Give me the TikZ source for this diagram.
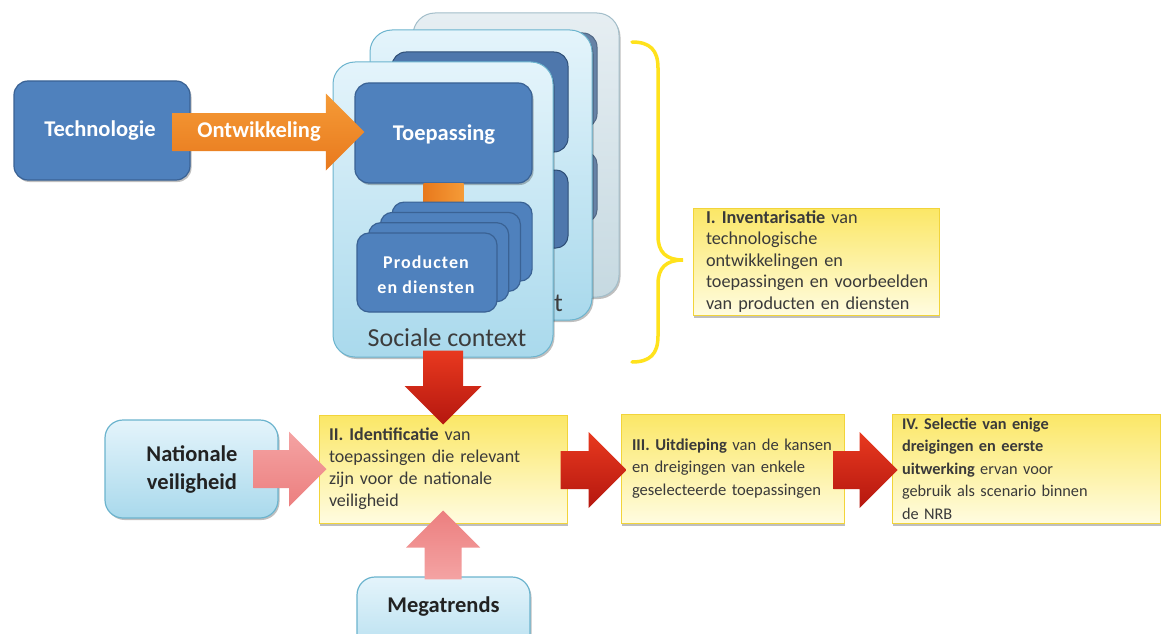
\documentclass[tikz,border=0pt]{standalone}
\usepackage{fontspec}
\setmainfont{Carlito}
\usetikzlibrary{calc,shadows}
\definecolor{techblue}{HTML}{4F81BD}
\definecolor{techborder}{HTML}{3A6294}
\definecolor{midblue}{HTML}{4E77AC}
\definecolor{backblue}{HTML}{6682A6}
\definecolor{cardtop}{HTML}{E4F4FB}
\definecolor{cardbot}{HTML}{A9D9EC}
\definecolor{cardborder}{HTML}{6CB4CE}
\definecolor{backtop}{HTML}{E6EEF2}
\definecolor{backbot}{HTML}{C6D9E1}
\definecolor{backborder}{HTML}{A3BECA}
\definecolor{ytop}{HTML}{FBE766}
\definecolor{ybot}{HTML}{FFFCE0}
\definecolor{yborder}{HTML}{F2D43A}
\definecolor{ytext}{HTML}{3A3A3A}
\definecolor{bracecol}{HTML}{FFE21C}
\definecolor{redtop}{HTML}{E8391F}
\definecolor{redbot}{HTML}{B5170F}
\definecolor{pinktop}{HTML}{F4A3A3}
\definecolor{pinkbot}{HTML}{EC7F7F}
\definecolor{orangetop}{HTML}{F59B37}
\definecolor{orangebot}{HTML}{E8791D}
\definecolor{darktext}{HTML}{222222}
\definecolor{greytext}{HTML}{3C3C3C}

% fat block arrows: #1 options, #2 start, #3 tip, #4 shaft half width, #5 head half width (= head length)
\newcommand\fatR[5]{\path[#1] let \p1=(#2), \p2=(#3) in
  (\x1,\y2+#4) -- (\x2-#5,\y2+#4) -- (\x2-#5,\y2+#5) -- (\x2,\y2) -- (\x2-#5,\y2-#5) -- (\x2-#5,\y2-#4) -- (\x1,\y2-#4) -- cycle;}
\newcommand\fatD[5]{\path[#1] let \p1=(#2), \p2=(#3) in
  (\x2-#4,\y1) -- (\x2-#4,\y2+#5) -- (\x2-#5,\y2+#5) -- (\x2,\y2) -- (\x2+#5,\y2+#5) -- (\x2+#4,\y2+#5) -- (\x2+#4,\y1) -- cycle;}
\newcommand\fatU[5]{\path[#1] let \p1=(#2), \p2=(#3) in
  (\x2-#4,\y1) -- (\x2-#4,\y2-#5) -- (\x2-#5,\y2-#5) -- (\x2,\y2) -- (\x2+#5,\y2-#5) -- (\x2+#4,\y2-#5) -- (\x2+#4,\y1) -- cycle;}

\begin{document}
\begin{tikzpicture}[x=1pt,y=-1pt,
  shad/.style={drop shadow={shadow xshift=1.5pt,shadow yshift=-2pt,opacity=0.25,fill=black}},
  bluebox/.style={draw=techborder,line width=1.2pt,fill=techblue,rounded corners=14pt,inner sep=0pt,shad},
  whitetext/.style={text=white,font=\fontsize{22.5}{27}\selectfont\bfseries,inner sep=0pt},
  card/.style={draw=cardborder,line width=1pt,top color=cardtop,bottom color=cardbot,rounded corners=22pt,inner sep=0pt,shad},
  backcard/.style={draw=backborder,line width=1pt,top color=backtop,bottom color=backbot,rounded corners=22pt,inner sep=0pt,shad},
  midbox/.style={draw=techborder!80!black,line width=1pt,fill=midblue,rounded corners=14pt,inner sep=0pt},
  backbox/.style={draw=backblue!80!black,line width=1pt,fill=backblue,rounded corners=14pt,inner sep=0pt},
  prodbox/.style={draw=techborder,line width=1.2pt,fill=techblue,rounded corners=12pt,inner sep=0pt,minimum width=140pt,minimum height=79pt},
  lightbox/.style={draw=cardborder,line width=1.2pt,top color=cardtop,bottom color=cardbot,rounded corners=18pt,inner sep=0pt,shad},
  darklabel/.style={text=darktext,font=\fontsize{22.5}{28}\selectfont\bfseries,align=center,inner sep=0pt},
  ybox/.style={draw=yborder,line width=1pt,top color=ytop,bottom color=ybot,align=left,inner xsep=12pt,inner ysep=0pt,
     text=ytext,drop shadow={shadow xshift=1pt,shadow yshift=-2.5pt,opacity=0.25,fill=black}},
  brace/.style={draw=bracecol,line width=3.5pt,line cap=round},
  redarrow/.style={top color=redtop,bottom color=redbot},
  pinkarrow/.style={top color=pinktop,bottom color=pinkbot},
  uparrow/.style={top color=pinkbot,bottom color=pinktop},
  orangearrow/.style={top color=orangetop,bottom color=orangebot}
]
\clip (0,0) rectangle (1162,634);
\fill[white] (0,0) rectangle (1162,634);

% ---------- technology ----------
\node[bluebox,minimum width=176pt,minimum height=99pt] (tech) at (102,130.5) {};
\node[whitetext] (techt) at (100,131) {Technologie};

% ---------- stacked social context cards ----------
\node[backcard,minimum width=206pt,minimum height=284pt] (card3) at (516,155) {};
\node[backbox,minimum width=170pt,minimum height=95pt] (c3top) at (512,80.5) {};
\node[backbox,rounded corners=12pt,minimum width=139pt,minimum height=70pt] (c3low) at (527.5,187) {};

\node[card,minimum width=222pt,minimum height=290pt] (card2) at (481,175) {};
\node[midbox,minimum width=176pt,minimum height=100pt] (c2top) at (480,102) {};
\node[midbox,rounded corners=12pt,minimum width=139pt,minimum height=78pt] (c2low) at (498.5,209) {};
\node[text=greytext,font=\fontsize{26}{30}\selectfont,inner sep=0pt] (c2text) at (558.5,303) {t};

\node[card,minimum width=220pt,minimum height=295pt] (card1) at (443,209.5) {};
\node[bluebox,minimum width=177pt,minimum height=100pt] (toep) at (443.5,133) {};
\node[whitetext] (toept) at (444,135) {Toepassing};

% connector Toepassing -> producten
\path[left color=orangebot,right color=orangetop] ($(toep.south)+(-20,0)$) rectangle ($(toep.south)+(20,45)$);

% producten stack
\node[prodbox] (p4) at ($(427,272.5)+(35.1,-30.9)$) {};
\node[prodbox] (p3) at ($(427,272.5)+(23.4,-20.6)$) {};
\node[prodbox] (p2) at ($(427,272.5)+(11.7,-10.3)$) {};
\node[prodbox] (p1) at (427,272.5) {};
\node[text=white,font=\fontsize{18}{25}\selectfont\bfseries\addfontfeature{LetterSpace=6},align=center,inner sep=0pt] (prodt) at (426,274.5) {Producten\\en diensten};

\node[text=greytext,font=\fontsize{26}{30}\selectfont,inner sep=0pt] (c1text) at (447,338) {Sociale context};

% ---------- brace and box I ----------
\coordinate (bt) at (632,42);
\coordinate (bb) at (632,362);
\coordinate (btip) at (683,260);
\draw[brace] (bt) .. controls (650,42) and (658,50) .. (658,68) -- (658,236)
  .. controls (658,252) and (666,260) .. (btip)
  .. controls (666,260) and (658,268) .. (658,284) -- (658,336)
  .. controls (658,354) and (650,362) .. (bb);

\node[ybox,minimum width=246pt,minimum height=107pt,text width=220pt,inner xsep=13pt,font=\fontsize{18.2}{21.5}\selectfont] (b1) at (816,261.5)
 {{\bfseries I. Inventarisatie} van\\technologische\\ontwikkelingen en\\\mbox{toepassingen en voorbeelden}\\van producten en diensten};

% ---------- bottom row ----------
\node[lightbox,minimum width=173pt,minimum height=98pt] (nat) at (191.5,469) {};
\node[darklabel] (natt) at (192,469) {Nationale\\veiligheid};

\node[lightbox,minimum width=173pt,minimum height=100pt] (mega) at (443.5,627) {};
\node[darklabel] (megat) at (443.5,607) {Megatrends};

\node[ybox,minimum width=248pt,minimum height=108pt,text width=228pt,inner xsep=10pt,font=\fontsize{18}{22}\selectfont] (b2) at (443,469)
 {{\bfseries II. Identificatie} van\\toepassingen die relevant\\zijn voor de nationale\\veiligheid};
\node[ybox,minimum width=223pt,minimum height=109pt,text width=213pt,inner xsep=5pt,font=\fontsize{16.6}{22.5}\selectfont] (b3) at (732.5,468.5)
 {\hspace*{6pt}{\bfseries III. Uitdieping} van de kansen\\\hspace*{6pt}en dreigingen van enkele\\\hspace*{6pt}geselecteerde toepassingen};
\node[ybox,minimum width=268pt,minimum height=109pt,text width=248pt,inner xsep=10pt,font=\fontsize{16.3}{22.5}\selectfont] (b4) at (1026,468.5)
 {{\bfseries IV. Selectie van enige}\\{\bfseries dreigingen en eerste}\\{\bfseries uitwerking} ervan voor\\gebruik als scenario binnen\\de NRB};

% ---------- block arrows ----------
\fatR{orangearrow}{$(tech.east)+(-18,0)$}{$(toep.west)+(10,-1)$}{19pt}{38.5pt}
\node[whitetext] (ontw) at (259,132) {Ontwikkeling};

\fatD{redarrow}{$(card1.south)+(0,-7)$}{$(b2.north)+(0,10)$}{20pt}{38.5pt}
\fatR{pinkarrow}{$(nat.east)+(-25,0)$}{$(b2.west)+(8,0)$}{19pt}{37.5pt}
\fatU{uparrow}{$(mega.north)+(0,3)$}{$(b2.south)+(0,-13)$}{18.5pt}{37pt}
\fatR{redarrow}{$(b2.east)+(-7,0)$}{$(b3.west)+(6,1.5)$}{19pt}{38pt}
\fatR{redarrow}{$(b3.east)+(-11,0)$}{$(b4.west)+(6,1.5)$}{19pt}{38pt}

\end{tikzpicture}
\end{document}
